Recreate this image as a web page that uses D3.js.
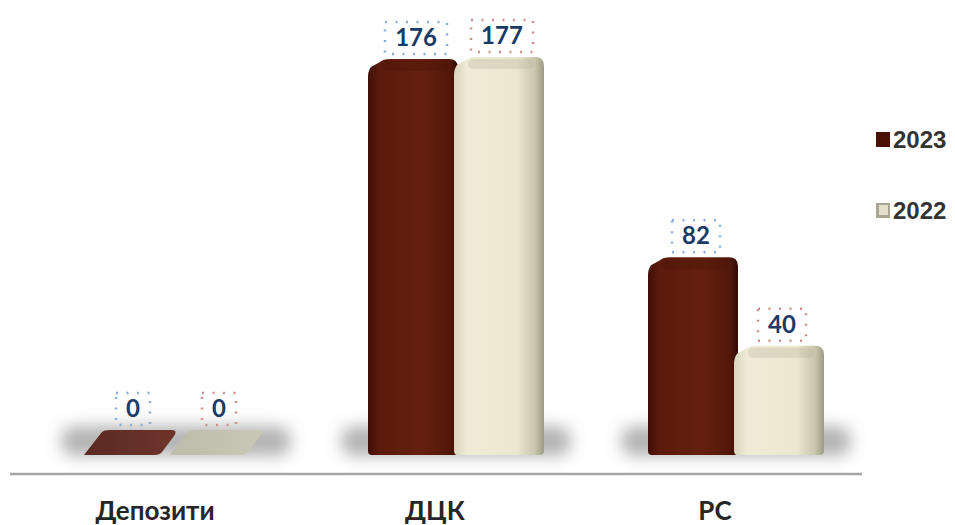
<!DOCTYPE html>
<html>
<head>
<meta charset="utf-8">
<script src="https://cdn.jsdelivr.net/npm/d3@7"></script>
<style>
  body { margin: 0; background: #fff; }
  svg { display: block; }
</style>
</head>
<body>
<script>
// data
var categories = ["Депозити", "ДЦК", "РС"];
var seriesNames = ["2023", "2022"];
var values2023 = [0, 176, 82];
var values2022 = [0, 177, 40];

var svgWidth = 955;
var svgHeight = 525;

var svg = d3.select("body").append("svg")
  .attr("width", svgWidth)
  .attr("height", svgHeight);

var defs = svg.append("defs");

// gradients for the two series
function grad(id, stops) {
  var g = defs.append("linearGradient").attr("id", id)
    .attr("x1", "0%").attr("x2", "100%").attr("y1", "0%").attr("y2", "0%");
  stops.forEach(function (s) {
    g.append("stop").attr("offset", s[0]).attr("stop-color", s[1]);
  });
}
grad("g2023", [["0%", "#3e0f06"], ["12%", "#5c1a0b"], ["60%", "#65200e"], ["92%", "#501709"], ["100%", "#2e0b04"]]);
grad("g2022", [["0%", "#d9d5bb"], ["15%", "#efebd6"], ["70%", "#ebe7cf"], ["90%", "#c9c6ad"], ["100%", "#9d9a85"]]);
grad("g2023z", [["0%", "#5a2a22"], ["100%", "#6e342a"]]);
grad("g2022z", [["0%", "#bdbcaa"], ["100%", "#c9c8b6"]]);

defs.append("filter").attr("id", "blur")
  .attr("x", "-20%").attr("y", "-100%").attr("width", "140%").attr("height", "300%")
  .append("feGaussianBlur").attr("stdDeviation", 8);

var baseY = 455;

var x0 = d3.scaleBand().domain(categories).range([36, 876]).paddingInner(0).paddingOuter(0);
var x1 = d3.scaleBand().domain(seriesNames).range([-86, 86]).padding(0);
var y = d3.scaleLinear().domain([0, 177]).range([430, 57]);

var rows = categories.map(function (c, i) {
  return { cat: c, vals: [{ s: "2023", v: values2023[i] }, { s: "2022", v: values2022[i] }] };
});

// soft shadow under each group
svg.selectAll(".shadow").data(rows).enter().append("rect")
  .attr("class", "shadow")
  .attr("x", d => x0(d.cat) + x0.bandwidth() / 2 - 115)
  .attr("y", 426)
  .attr("width", 230)
  .attr("height", 30)
  .attr("rx", 14)
  .attr("fill", "#b3b3b3")
  .attr("filter", "url(#blur)");

function barPath(x, w, top, bottom) {
  var h = bottom - top;
  var bev = h < 40 ? 18 : 12;
  var r = h < 40 ? 5 : 9;
  if (h < 40) {
    // flat zero bar drawn as slanted slab
    return "M" + x + "," + bottom +
      " L" + (x + bev) + "," + (top + 2) +
      " Q" + (x + bev + 2) + "," + top + " " + (x + bev + 8) + "," + top +
      " L" + (x + w - 2) + "," + top +
      " Q" + (x + w + 4) + "," + top + " " + (x + w) + "," + (top + 6) +
      " L" + (x + w - 12) + "," + (bottom - 3) +
      " Q" + (x + w - 14) + "," + bottom + " " + (x + w - 20) + "," + bottom + " Z";
  }
  return "M" + x + "," + (bottom - 4) +
    " L" + x + "," + (top + bev + 6) +
    " Q" + x + "," + (top + bev) + " " + (x + 3) + "," + (top + bev - 4) +
    " L" + (x + bev) + "," + (top + 3) +
    " Q" + (x + bev + 3) + "," + top + " " + (x + bev + 10) + "," + top +
    " L" + (x + w - r) + "," + top +
    " Q" + (x + w) + "," + top + " " + (x + w) + "," + (top + r) +
    " L" + (x + w) + "," + (bottom - 4) +
    " Q" + (x + w) + "," + bottom + " " + (x + w - 4) + "," + bottom +
    " L" + (x + 4) + "," + bottom +
    " Q" + x + "," + bottom + " " + x + "," + (bottom - 4) + " Z";
}

var groups = svg.selectAll(".grp").data(rows).enter().append("g")
  .attr("class", "grp")
  .attr("transform", d => `translate(${x0(d.cat) + x0.bandwidth() / 2}, 0)`);

groups.selectAll(".bar").data(d => d.vals).enter().append("path")
  .attr("class", "bar")
  .attr("d", function (d) {
    var w = x1.bandwidth() + 4;
    return barPath(x1(d.s) - (d.v === 0 ? 6 : 2), w, y(d.v), baseY);
  })
  .attr("fill", d => d.v === 0 ? (d.s === "2023" ? "url(#g2023z)" : "url(#g2022z)") : (d.s === "2023" ? "url(#g2023)" : "url(#g2022)"));

// top highlight caps
groups.selectAll(".cap").data(d => d.vals.filter(v => v.v > 0)).enter().append("rect")
  .attr("class", "cap")
  .attr("x", d => x1(d.s) + 12)
  .attr("y", d => y(d.v) + 2)
  .attr("width", x1.bandwidth() - 20)
  .attr("height", 10)
  .attr("rx", 5)
  .attr("fill", d => d.s === "2023" ? "#4a1408" : "#b3b09a")
  .attr("opacity", 0.3);

// value labels with dotted boxes
var labelFont = "'Lato', 'DejaVu Sans', sans-serif";
groups.selectAll(".lbl").data(d => d.vals).enter().append("g")
  .attr("class", "lbl")
  .each(function (d) {
    var g = d3.select(this);
    var cx = x1(d.s) + x1.bandwidth() / 2 + (d.v === 0 ? 0 : 3);
    var cy = y(d.v) - 21;
    g.append("text")
      .attr("x", cx).attr("y", cy + 8)
      .attr("text-anchor", "middle")
      .attr("font-family", labelFont)
      .attr("font-weight", "bold")
      .attr("font-size", 24)
      .attr("fill", "#1b3a67")
      .text(d.v);
    var bw = String(d.v).length * 14 + 20;
    g.insert("rect", "text")
      .attr("x", cx - bw / 2).attr("y", cy - 16)
      .attr("width", bw).attr("height", 32)
      .attr("fill", "none")
      .attr("stroke", d.s === "2023" ? "#8aaed8" : "#d38f8f")
      .attr("stroke-width", 2.5)
      .attr("stroke-dasharray", "2,8.5");
  });

// axis line
svg.append("line")
  .attr("x1", 10).attr("x2", 862)
  .attr("y1", 474).attr("y2", 474)
  .attr("stroke", "#a5a5a5")
  .attr("stroke-width", 2.5);

// category labels
svg.selectAll(".cat").data(categories).enter().append("text")
  .attr("class", "cat")
  .attr("x", d => x0(d) + x0.bandwidth() / 2 - 21)
  .attr("y", 520)
  .attr("text-anchor", "middle")
  .attr("font-family", labelFont)
  .attr("font-weight", "bold")
  .attr("font-size", 26)
  .attr("fill", "#262626")
  .text(d => d);

// legend
var legend = svg.selectAll(".leg").data(seriesNames).enter().append("g")
  .attr("class", "leg")
  .attr("transform", (d, i) => `translate(876, ${132 + i * 71})`);

legend.append("rect")
  .attr("width", 14).attr("height", 15)
  .attr("fill", d => d === "2023" ? "#4a1207" : "#a9a793");
legend.filter(d => d === "2022").append("rect")
  .attr("x", 3).attr("y", 2).attr("width", 9).attr("height", 10)
  .attr("fill", "#e4e1cb");

legend.append("text")
  .attr("x", 17).attr("y", 16)
  .attr("font-family", "'Liberation Sans', Arial, sans-serif")
  .attr("font-weight", "bold")
  .attr("font-size", 24)
  .attr("fill", "#333")
  .text(d => d);
</script>
</body>
</html>
